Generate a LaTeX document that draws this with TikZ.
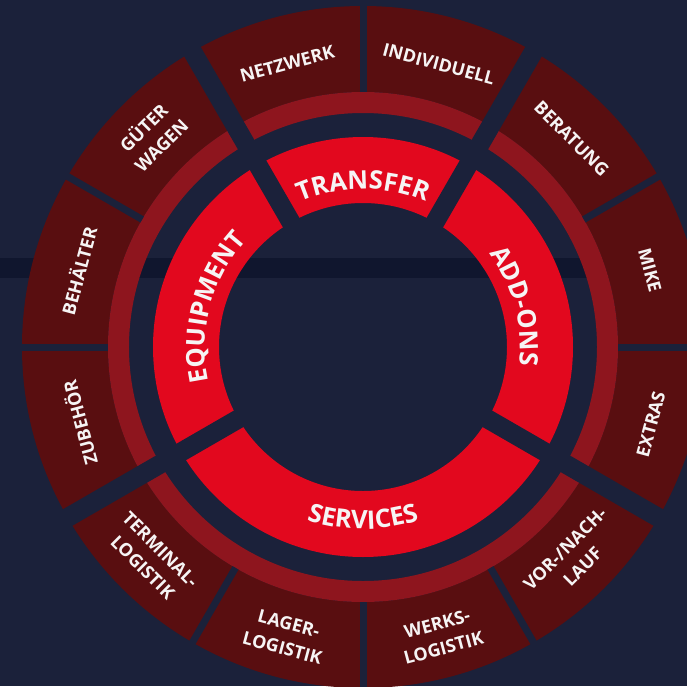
\documentclass[tikz,border=0pt]{standalone}
\usepackage{fontspec}
\setmainfont{Open Sans}
\usetikzlibrary{decorations.text}
\definecolor{bgnavy}{RGB}{27,33,58}
\definecolor{bandnavy}{RGB}{16,22,46}
\definecolor{segdark}{RGB}{89,14,16}
\definecolor{ringmid}{RGB}{142,21,30}
\definecolor{ringred}{RGB}{226,8,30}
\definecolor{labelwhite}{RGB}{246,244,244}
\newcommand\innerfont{\fontsize{25.5}{25.5}\selectfont\bfseries}
\begin{document}
\begin{tikzpicture}[x=1pt,y=1pt,
  outerlabel/.style={text=labelwhite, font=\fontsize{18}{25}\selectfont\bfseries, align=center, inner sep=0pt},
  thinsep/.style={draw=bgnavy, line width=7pt},
  widesep/.style={draw=bgnavy, line width=19pt},
  innerlabel/.style={decorate, decoration={text along path, text align=center, text color=labelwhite, text={#1}}}]
\useasboundingbox (-363,-339) rectangle (324,347);
\clip (-363,-339) rectangle (324,347);
\fill[bgnavy] (-363,-339) rectangle (324,347);
\fill[bandnavy] (-363,69) rectangle (324,89);
\coordinate (c) at (0,0);
% rings
\fill[segdark, even odd rule] (c) circle[radius=341pt] (c) circle[radius=255pt];
\fill[ringmid, even odd rule] (c) circle[radius=255pt] (c) circle[radius=234pt];
\fill[ringred, even odd rule] (c) circle[radius=210pt] (c) circle[radius=144pt];
% separators
\foreach \a in {0,30,90,150,180,240,270,300} \draw[thinsep] (\a:255) -- (\a:360);
\foreach \a in {60,120,210,330} \draw[widesep] (\a:140) -- (\a:360);
% inner labels
\path[innerlabel={|\innerfont|TRANSFER}] (130:158pt) arc[start angle=130, end angle=50, radius=158pt];
\path[innerlabel={|\innerfont|EQUIPMENT}] (210:158pt) arc[start angle=210, end angle=120, radius=158pt];
\path[innerlabel={|\innerfont|ADD-ONS}] (60:157pt) arc[start angle=60, end angle=-30, radius=157pt];
\path[innerlabel={|\innerfont|SERVICES}] (220:182pt) arc[start angle=220, end angle=320, radius=182pt];
% outer labels
\node[outerlabel, rotate=15] (netzwerk) at (105:293) {NETZWERK};
\node[outerlabel, rotate=-15] (individuell) at (75:293) {INDIVIDUELL};
\node[outerlabel, rotate=-45] (beratung) at (45:295) {BERATUNG};
\node[outerlabel, rotate=-75] (mike) at (15:297) {MIKE};
\node[outerlabel, rotate=75] (extras) at (-15:298) {EXTRAS};
\node[outerlabel, rotate=45] (vornach) at (-45:298) {VOR-/NACH-\\LAUF};
\node[outerlabel, rotate=15] (werks) at (-75:299) {WERKS-\\LOGISTIK};
\node[outerlabel, rotate=-15] (lager) at (-105:299) {LAGER-\\LOGISTIK};
\node[outerlabel, rotate=-45] (terminal) at (-135:299) {TERMINAL-\\LOGISTIK};
\node[outerlabel, rotate=105] (zubehoer) at (195:294) {ZUBEHÖR};
\node[outerlabel, rotate=75] (behaelter) at (165:295) {BEHÄLTER};
\node[outerlabel, rotate=45] (gueter) at (135:299) {GÜTER\\WAGEN};
\end{tikzpicture}
\end{document}
